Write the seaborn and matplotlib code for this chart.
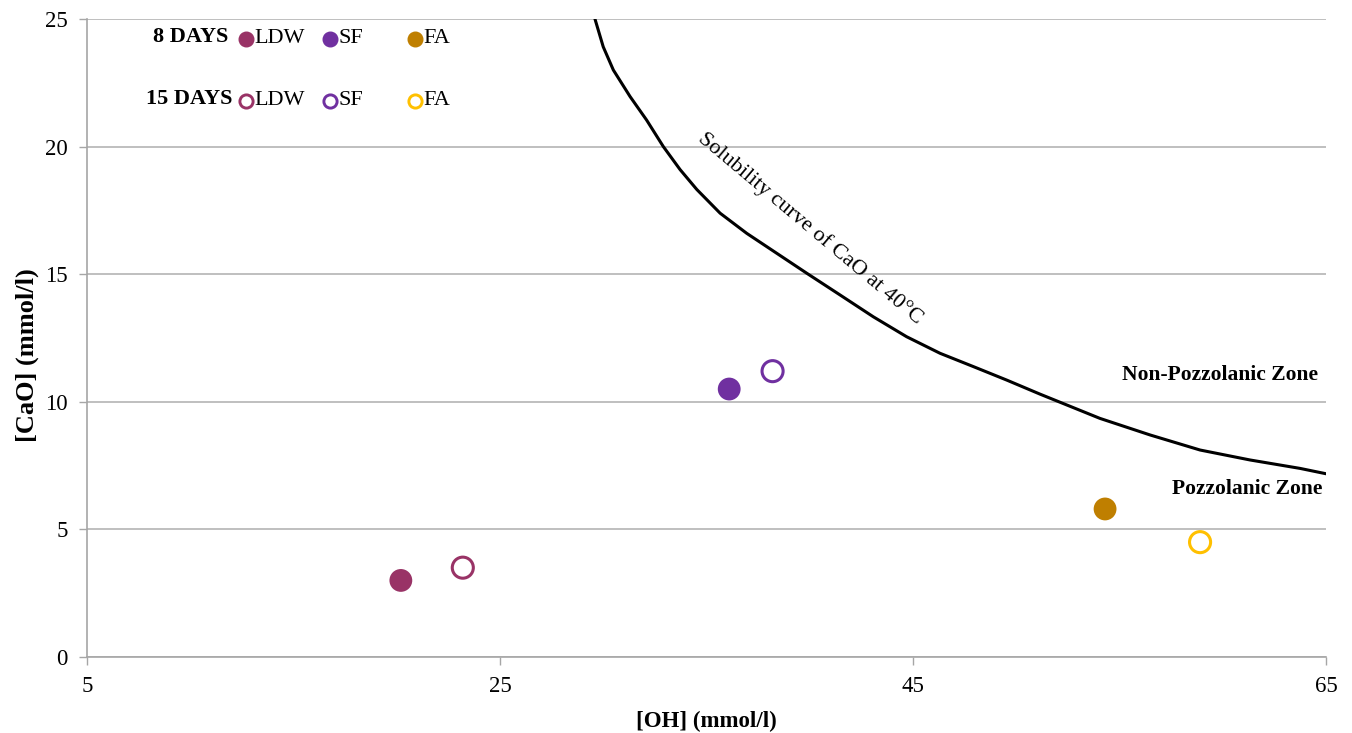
import pandas as pd
import matplotlib.pyplot as plt
import seaborn as sns

# data
materials = ['LDW', 'SF', 'FA']
oh_8 = [20.2, 36.1, 54.3]
cao_8 = [3.0, 10.5, 5.8]
oh_15 = [23.2, 38.2, 58.9]
cao_15 = [3.5, 11.2, 4.5]
colors_8 = ['#993366', '#7030A0', '#BF7F00']
colors_15 = ['#993366', '#7030A0', '#FFC000']

# solubility curve of CaO at 40 C
curve_oh = [29.60, 30.00, 30.49, 31.30, 32.10, 32.91, 33.72, 34.53, 35.66, 36.95,
            38.40, 39.85, 41.46, 43.08, 44.69, 46.31, 47.92, 49.54, 51.15,
            54.05, 56.48, 58.90, 61.32, 63.74, 65.00]
curve_cao = [25.00, 23.91, 23.00, 21.96, 21.04, 20.00, 19.10, 18.32, 17.39, 16.60,
             15.82, 15.04, 14.19, 13.33, 12.55, 11.90, 11.38, 10.85, 10.30,
             9.35, 8.70, 8.11, 7.72, 7.39, 7.18]

x_ticks = [5, 25, 45, 65]
y_ticks = [0, 5, 10, 15, 20, 25]

sns.set_style('white')
plt.rcParams['font.family'] = ['Liberation Serif', 'DejaVu Serif']
plt.rcParams['text.color'] = 'black'
plt.rcParams['axes.labelcolor'] = 'black'
plt.rcParams['xtick.color'] = 'black'
plt.rcParams['ytick.color'] = 'black'

fig = plt.figure(figsize=(13.52, 7.33), dpi=100)
ax = fig.add_axes([0.0643, 0.1037, 0.9165, 0.8704])

curve = pd.DataFrame({'OH': curve_oh, 'CaO': curve_cao})
sns.lineplot(data=curve, x='OH', y='CaO', color='black', lw=2.2, sort=False,
             solid_joinstyle='round', ax=ax)

for i in range(3):
    sns.scatterplot(x=[oh_8[i]], y=[cao_8[i]], color=colors_8[i], s=270,
                    edgecolor='none', ax=ax, zorder=3)
    ax.scatter([oh_15[i]], [cao_15[i]], s=230, facecolors='none',
               edgecolors=colors_15[i], linewidths=2.2, zorder=3)

ax.set_xlim(5, 65)
ax.set_ylim(0, 25)
ax.set_xticks(x_ticks)
ax.set_yticks(y_ticks)
ax.tick_params(axis='both', labelsize=16.5, length=6, color='#A6A6A6', width=1,
               labelcolor='black', direction='out', pad=8, left=True, bottom=True)
ax.yaxis.grid(True, color='#B4B4B4', lw=1.2)
ax.xaxis.grid(False)
for s in ['top', 'right']:
    ax.spines[s].set_visible(False)
for s in ['left', 'bottom']:
    ax.spines[s].set_color('#A6A6A6')
    ax.spines[s].set_linewidth(1.2)

ax.set_xlabel('[OH] (mmol/l)', fontsize=16.5, fontweight='bold', labelpad=10)
ax.set_ylabel('[CaO] (mmol/l)', fontsize=19, fontweight='bold')
ax.yaxis.set_label_coords(-0.039, 0.473)

ax.text(40.0, 16.8, 'Solubility curve of CaO at 40°C', rotation=-40,
        fontsize=16, ha='center', va='center', rotation_mode='anchor')
ax.text(64.6, 11.05, 'Non-Pozzolanic Zone', fontsize=15.5, fontweight='bold',
        ha='right', va='center')
ax.text(64.8, 6.58, 'Pozzolanic Zone', fontsize=15.5, fontweight='bold',
        ha='right', va='center')

# custom legend
mk_x = [0.1283, 0.1961, 0.2647]
rows = [('8 DAYS', 0.970, 0.1138, colors_8, True),
        ('15 DAYS', 0.873, 0.1178, colors_15, False)]
for label, yy, xr, cols, filled in rows:
    ax.text(xr, yy + 0.002, label, transform=ax.transAxes, fontsize=16,
            fontweight='bold', ha='right', va='center')
    for j in range(3):
        if filled:
            ax.plot(mk_x[j], yy - 0.001, 'o', color=cols[j], ms=10.5,
                    transform=ax.transAxes, clip_on=False)
        else:
            ax.plot(mk_x[j], yy - 0.001, 'o', mfc='none', mec=cols[j], mew=2.1,
                    ms=9.5, transform=ax.transAxes, clip_on=False)
        ax.text(mk_x[j] + 0.0068, yy, materials[j], transform=ax.transAxes,
                fontsize=16, ha='left', va='center')

fig.savefig('out.png', dpi=100)
